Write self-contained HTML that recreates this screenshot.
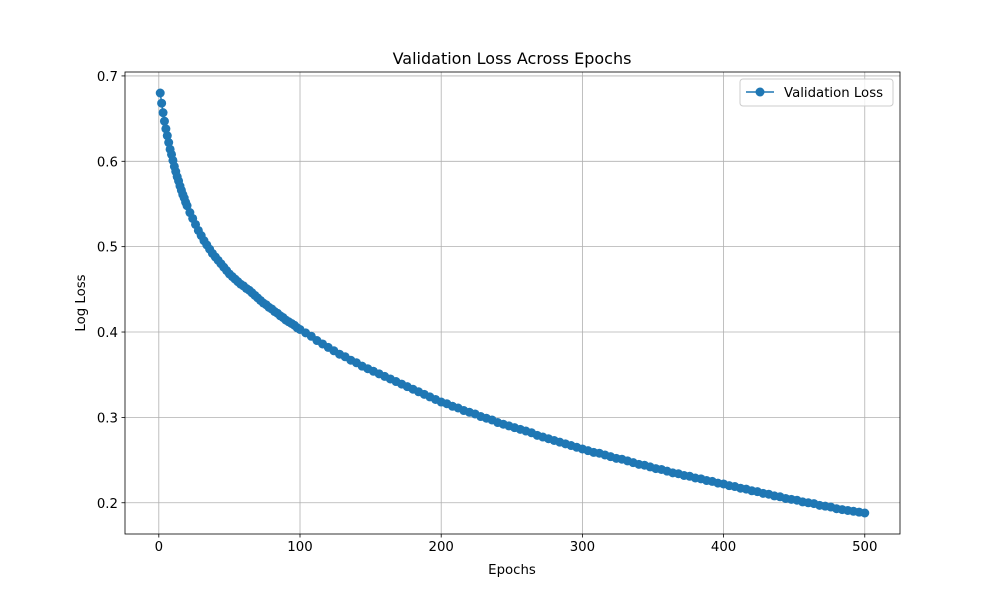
<!DOCTYPE html>
<html><head><meta charset="utf-8"><style>
html,body{margin:0;padding:0;background:#fff;}
svg text{font-family:"DejaVu Sans","Liberation Sans",sans-serif;fill:#000;}
</style></head><body>
<svg id="chart" width="1000" height="600" viewBox="0 0 1000 600" xmlns="http://www.w3.org/2000/svg">
<rect width="1000" height="600" fill="#fff"/>
<g id="grid"></g><g id="series"></g><g id="axes"></g>
<text x="512" y="64" font-size="16" text-anchor="middle">Validation Loss Across Epochs</text>
<text x="512" y="574" font-size="13.3" text-anchor="middle">Epochs</text>
<text transform="translate(85,303) rotate(-90)" font-size="13.3" text-anchor="middle">Log Loss</text>
<g>
<rect x="740" y="79" width="153" height="27" fill="#fff" fill-opacity="0.8" stroke="#ccc" rx="3"/>
<line x1="746" y1="92" x2="774" y2="92" stroke="#1f77b4" stroke-width="1.5"/>
<circle cx="760" cy="92" r="4.5" fill="#1f77b4"/>
<text x="784" y="97" font-size="13.3">Validation Loss</text>
</g>
</svg>
<script>
const epochs = [1,2,3,4,5,6,7,8,9,10,11,12,13,14,15,16,17,18,19,20,22,24,26,28,30,32,34,36,38,40,42,44,46,48,50,52,54,56,58,60,62,64,66,68,70,72,74,76,78,80,82,84,86,88,90,92,94,96,98,100,104,108,112,116,120,124,128,132,136,140,144,148,152,156,160,164,168,172,176,180,184,188,192,196,200,204,208,212,216,220,224,228,232,236,240,244,248,252,256,260,264,268,272,276,280,284,288,292,296,300,304,308,312,316,320,324,328,332,336,340,344,348,352,356,360,364,368,372,376,380,384,388,392,396,400,404,408,412,416,420,424,428,432,436,440,444,448,452,456,460,464,468,472,476,480,484,488,492,496,500];
const losses = [.680,.668,.657,.647,.638,.630,.622,.614,.608,.601,.594,.588,.582,.577,.571,.566,.561,.557,.552,.548,.540,.533,.526,.519,.513,.507,.502,.497,.492,.488,.484,.480,.476,.472,.468,.465,.462,.459,.456,.454,.451,.449,.446,.443,.440,.437,.434,.432,.429,.427,.424,.422,.419,.417,.414,.412,.410,.408,.405,.403,.399,.395,.390,.386,.382,.378,.374,.371,.367,.364,.360,.357,.354,.351,.348,.345,.342,.339,.336,.333,.330,.327,.324,.321,.318,.316,.313,.311,.308,.306,.304,.301,.299,.297,.294,.292,.290,.288,.286,.284,.282,.279,.277,.275,.273,.271,.269,.267,.265,.263,.261,.259,.258,.256,.254,.252,.251,.249,.247,.245,.244,.242,.240,.239,.237,.235,.234,.232,.231,.229,.228,.226,.225,.223,.222,.220,.219,.217,.216,.214,.213,.211,.210,.208,.207,.205,.204,.203,.201,.200,.199,.197,.196,.195,.193,.192,.191,.190,.189,.188];
const xTicks = [0,100,200,300,400,500];
const yTicks = [0.2,0.3,0.4,0.5,0.6,0.7];
const L=125,R=900,T=72,B=534;
const NS="http://www.w3.org/2000/svg";
const xmin0=Math.min(...epochs),xmax0=Math.max(...epochs),ymin0=Math.min(...losses),ymax0=Math.max(...losses);
const xmin=xmin0-0.05*(xmax0-xmin0),xmax=xmax0+0.05*(xmax0-xmin0);
const ymin=ymin0-0.05*(ymax0-ymin0),ymax=ymax0+0.05*(ymax0-ymin0);
const sx=v=>L+(v-xmin)/(xmax-xmin)*(R-L);
const sy=v=>B-(v-ymin)/(ymax-ymin)*(B-T);
function mk(tag,attrs,parent){const e=document.createElementNS(NS,tag);for(const k in attrs)e.setAttribute(k,attrs[k]);parent.appendChild(e);return e;}
const grid=document.getElementById('grid'),axes=document.getElementById('axes'),series=document.getElementById('series');
xTicks.forEach(t=>{const x=sx(t);
 const g=mk('line',{x1:x,x2:x,y1:T,y2:B,stroke:'#b0b0b0','stroke-width':0.8},grid);
 
 
 mk('line',{x1:x,x2:x,y1:B,y2:B+3.5,stroke:'#000','stroke-width':0.8},axes);
 const tx=mk('text',{x:x,y:B+17,'font-size':13.3,'text-anchor':'middle'},axes);tx.textContent=t;
 
 
});
yTicks.forEach(t=>{const y=sy(t);
 const g=mk('line',{x1:L,x2:R,y1:y,y2:y,stroke:'#b0b0b0','stroke-width':0.8},grid);
 
 
 mk('line',{x1:L-3.5,x2:L,y1:y,y2:y,stroke:'#000','stroke-width':0.8},axes);
 const tx=mk('text',{x:L-7,y:y+5,'font-size':13.3,'text-anchor':'end'},axes);tx.textContent=t.toFixed(1);
 
 
});
const frame=mk('rect',{x:L,y:T,width:R-L,height:B-T,fill:'none',stroke:'#000','stroke-width':0.8},axes);


const pts=epochs.map((e,i)=>sx(e).toFixed(2)+','+sy(losses[i]).toFixed(2)).join(' ');
const line=mk('polyline',{points:pts,fill:'none',stroke:'#1f77b4','stroke-width':1.5},series);


epochs.forEach((e,i)=>{const c=mk('circle',{cx:sx(e),cy:sy(losses[i]),r:4.5,fill:'#1f77b4'},series);
 
 
});
</script>
</body></html>
